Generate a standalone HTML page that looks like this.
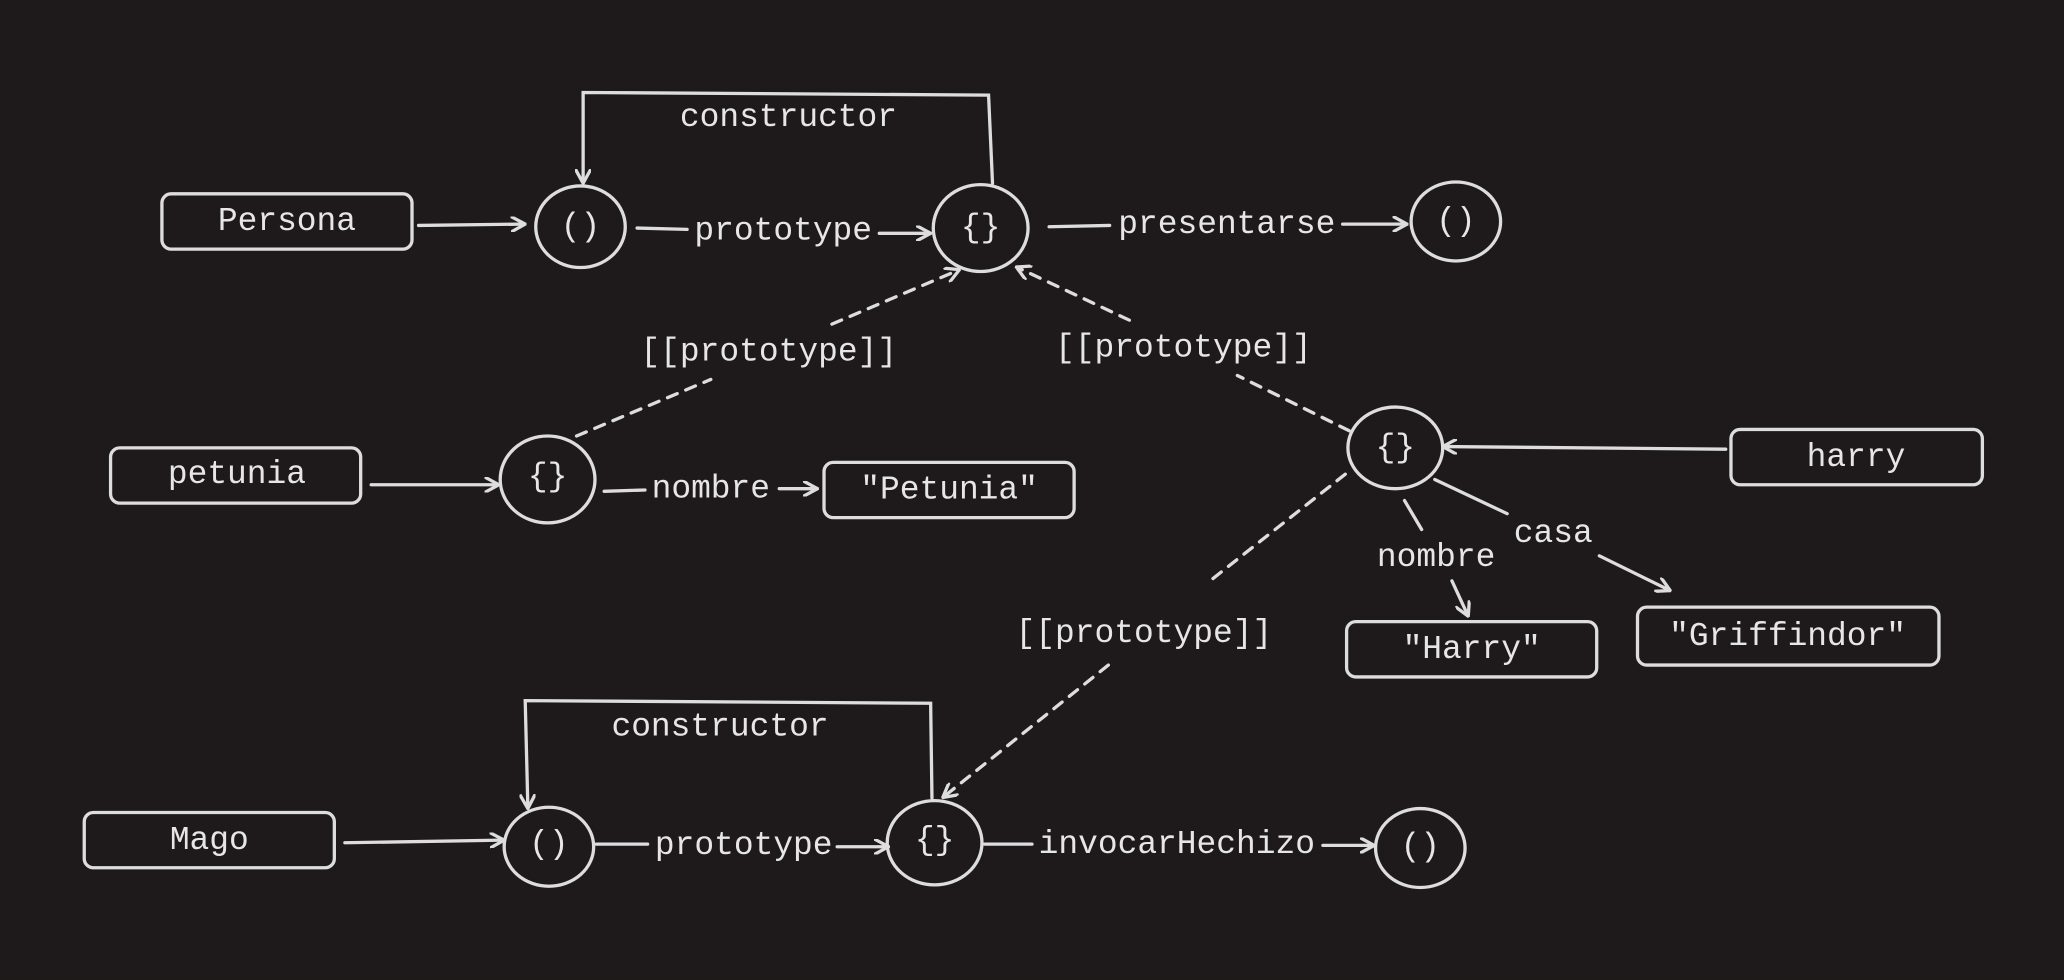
<!DOCTYPE html>
<html><head><meta charset="utf-8"><style>
html,body{margin:0;padding:0;background:#1e1a1b;}
svg{display:block}
text{font-family:"Liberation Mono",monospace;font-size:25px;fill:#e6e6e6;text-anchor:middle;dominant-baseline:middle}
</style></head><body>
<svg width="2064" height="980" viewBox="0 0 1568 744" xmlns="http://www.w3.org/2000/svg">
<defs><marker id="a" markerWidth="12" markerHeight="12" refX="10" refY="6" orient="auto" markerUnits="userSpaceOnUse"><path d="M0,0 L11,6 L0,12" fill="none" stroke="#ddd" stroke-width="2.5"/></marker></defs>
<rect width="1568" height="744" fill="#1e1a1b"/>
<g fill="none" stroke="#ddd" stroke-width="2.5" stroke-linecap="round">
<rect x="123" y="147" width="190" height="42" rx="7"/>
<rect x="84" y="340" width="190" height="42" rx="7"/>
<rect x="626" y="351" width="190" height="42" rx="7"/>
<rect x="1315" y="326" width="191" height="42" rx="7"/>
<rect x="1023" y="472" width="190" height="42" rx="7"/>
<rect x="1244" y="461" width="229" height="44" rx="7"/>
<rect x="64" y="617" width="190" height="42" rx="7"/>
<ellipse cx="441" cy="172" rx="34" ry="31"/>
<ellipse cx="745" cy="173" rx="36" ry="33"/>
<ellipse cx="1106" cy="168" rx="34" ry="30"/>
<ellipse cx="416" cy="364" rx="36" ry="33"/>
<ellipse cx="1060" cy="340" rx="36" ry="31"/>
<ellipse cx="417" cy="643" rx="34" ry="30"/>
<ellipse cx="710" cy="640" rx="36" ry="32"/>
<ellipse cx="1079" cy="644" rx="34" ry="30"/>
<line x1="318" y1="171" x2="398" y2="170" marker-end="url(#a)"/>
<line x1="484" y1="173" x2="522" y2="174"/>
<line x1="668" y1="177" x2="706" y2="177" marker-end="url(#a)"/>
<polyline points="754,139 751,72 443,70 443,138" marker-end="url(#a)"/>
<line x1="797" y1="172" x2="843" y2="171"/>
<line x1="1020" y1="170" x2="1068" y2="170" marker-end="url(#a)"/>
<line x1="282" y1="368" x2="378" y2="368" marker-end="url(#a)"/>
<line x1="459" y1="373" x2="490" y2="372"/>
<line x1="592" y1="371" x2="620" y2="371" marker-end="url(#a)"/>
<line x1="1311" y1="341" x2="1097" y2="339" marker-end="url(#a)"/>
<line x1="1067" y1="380" x2="1080" y2="402"/>
<line x1="1103" y1="441" x2="1115" y2="467" marker-end="url(#a)"/>
<line x1="1090" y1="364" x2="1145" y2="390"/>
<line x1="1215" y1="422" x2="1268" y2="448" marker-end="url(#a)"/>
<line x1="262" y1="640" x2="382" y2="638" marker-end="url(#a)"/>
<line x1="453" y1="641" x2="492" y2="641"/>
<line x1="636" y1="643" x2="674" y2="643" marker-end="url(#a)"/>
<polyline points="708,606 707,534 399,532 401,613" marker-end="url(#a)"/>
<line x1="748" y1="641" x2="784" y2="641"/>
<line x1="1005" y1="642" x2="1043" y2="642" marker-end="url(#a)"/>
<g stroke-dasharray="8,7">
<line x1="438" y1="331" x2="540" y2="288"/>
<line x1="632" y1="246" x2="728" y2="205" marker-end="url(#a)"/>
<line x1="1025" y1="327" x2="940" y2="285"/>
<line x1="858" y1="243" x2="773" y2="203" marker-end="url(#a)"/>
<line x1="1022" y1="360" x2="918" y2="442"/>
<line x1="842" y1="505" x2="717" y2="605" marker-end="url(#a)"/>
</g>
</g>
<text x="218" y="168">Persona</text>
<text x="441" y="172">()</text>
<text x="595" y="175">prototype</text>
<text x="745" y="173">{}</text>
<text x="599" y="89">constructor</text>
<text x="932" y="170">presentarse</text>
<text x="1106" y="168">()</text>
<text x="180" y="360">petunia</text>
<text x="416" y="362">{}</text>
<text x="540" y="371">nombre</text>
<text x="721" y="372">"Petunia"</text>
<text x="584" y="267">[[prototype]]</text>
<text x="899" y="264">[[prototype]]</text>
<text x="1060" y="340">{}</text>
<text x="1410" y="347">harry</text>
<text x="1091" y="423">nombre</text>
<text x="1180" y="405">casa</text>
<text x="1118" y="493">"Harry"</text>
<text x="1358" y="483">"Griffindor"</text>
<text x="869" y="481">[[prototype]]</text>
<text x="159" y="638">Mago</text>
<text x="417" y="641">()</text>
<text x="565" y="642">prototype</text>
<text x="710" y="638">{}</text>
<text x="547" y="552">constructor</text>
<text x="894" y="641">invocarHechizo</text>
<text x="1079" y="643">()</text>
</svg>
</body></html>
